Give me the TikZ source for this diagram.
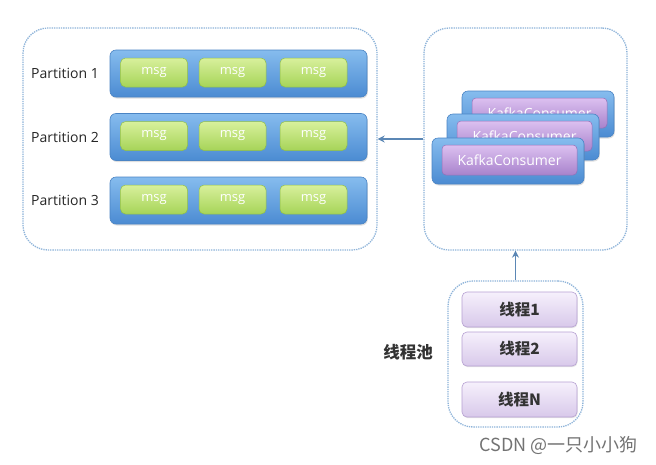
\documentclass[tikz,border=0pt]{standalone}
\usepackage{fontspec}
\setmainfont{Open Sans}
\newfontfamily\cjk{Noto Sans CJK SC}
\usetikzlibrary{shadows,arrows.meta}
\definecolor{dotblue}{HTML}{8DB3D9}
\definecolor{barTop}{HTML}{86BCEE}
\definecolor{barBot}{HTML}{4B8BD2}
\definecolor{barEdge}{HTML}{4A84C4}
\definecolor{msgTop}{HTML}{D8F09C}
\definecolor{msgBot}{HTML}{A6D458}
\definecolor{msgEdge}{HTML}{90BF48}
\definecolor{kafTop}{HTML}{DCC0F0}
\definecolor{kafBot}{HTML}{A883CC}
\definecolor{kafEdge}{HTML}{9470B8}
\definecolor{thrTop}{HTML}{F6F0FC}
\definecolor{thrBot}{HTML}{D8C9EA}
\definecolor{thrEdge}{HTML}{B6A0D2}
\definecolor{arrowc}{HTML}{5B87B5}
\tikzset{
  container/.style={draw=dotblue, densely dotted, line width=1.3pt, rounded corners=25pt, rectangle},
  bar/.style={rectangle, rounded corners=6pt, draw=barEdge, line width=0.6pt, top color=barTop, bottom color=barBot,
    drop shadow={shadow xshift=0.8pt, shadow yshift=-1.5pt, opacity=0.25}},
  msgbox/.style={rectangle, rounded corners=5pt, draw=msgEdge, line width=0.5pt, top color=msgTop, bottom color=msgBot,
    minimum width=67pt, minimum height=29pt, text=white, font=\fontsize{13}{15}\selectfont},
  kafin/.style={rectangle, rounded corners=4pt, draw=kafEdge, line width=0.5pt, top color=kafTop, bottom color=kafBot,
    minimum width=135pt, minimum height=30pt, text=white, font=\fontsize{14}{16}\selectfont},
  plabel/.style={text=black!85, font=\fontsize{14}{16}\selectfont},
  thread/.style={rectangle, rounded corners=5pt, draw=thrEdge, line width=0.6pt, top color=thrTop, bottom color=thrBot,
    minimum width=115pt, text=black!80, font=\fontsize{15.5}{17}\selectfont\cjk\bfseries,
    drop shadow={shadow xshift=0.6pt, shadow yshift=-1.2pt, opacity=0.2}},
  conn/.style={draw=arrowc, line width=1.6pt, -{Stealth[length=7pt,width=7pt]}},
}
\begin{document}
\begin{tikzpicture}[x=1pt,y=-1pt]
\useasboundingbox[fill=white] (0,0) rectangle (656,464);
% containers
\node[container, minimum width=354pt, minimum height=222pt] (lc) at (200,139) {};
\node[container, minimum width=203pt, minimum height=222pt] (rc) at (525.5,139) {};
\node[container, minimum width=135pt, minimum height=146pt] (tp) at (515.5,354) {};
% partitions
\foreach \r/\y in {1/73.5,2/137,3/200.5}{
  \node[bar, minimum width=257pt, minimum height=47pt] (bar\r) at (238.5,\y) {};
  \node[plabel] (pl\r) at (65,\y) {Partition \r};
  \node[msgbox] (m\r a) at (154,\y-1) {msg};
  \node[msgbox] (m\r b) at (232.5,\y-1) {msg};
  \node[msgbox] (m\r c) at (313.5,\y-1) {msg};
}
% consumers
\foreach \n/\x/\y in {c3/538/114,c2/523/137,c1/508/161}{
  \node[bar, minimum width=152pt, minimum height=46pt] (\n) at (\x,\y) {};
  \node[kafin] (\n in) at (\x+1.5,\y-1) {KafkaConsumer};
}
% threads
\node[thread, minimum height=35pt] (t1) at (519.5,309.5) {线程1};
\node[thread, minimum height=34pt] (t2) at (519.5,349) {线程2};
\node[thread, minimum height=35pt] (tn) at (519.5,399.5) {线程N};
\node[text=black!80, font=\fontsize{16.5}{18}\selectfont\cjk\bfseries] (tpl) at (408,352) {线程池};
% arrows
\draw[conn] (rc.west) -- (lc.east);
\draw[conn] (tp.north) -- (tp.north |- rc.south);
% watermark
\node[anchor=east, text=black!55, font=\fontsize{18}{20}\selectfont\cjk] (wm) at (641,445) {CSDN @一只小小狗};
\end{tikzpicture}
\end{document}
